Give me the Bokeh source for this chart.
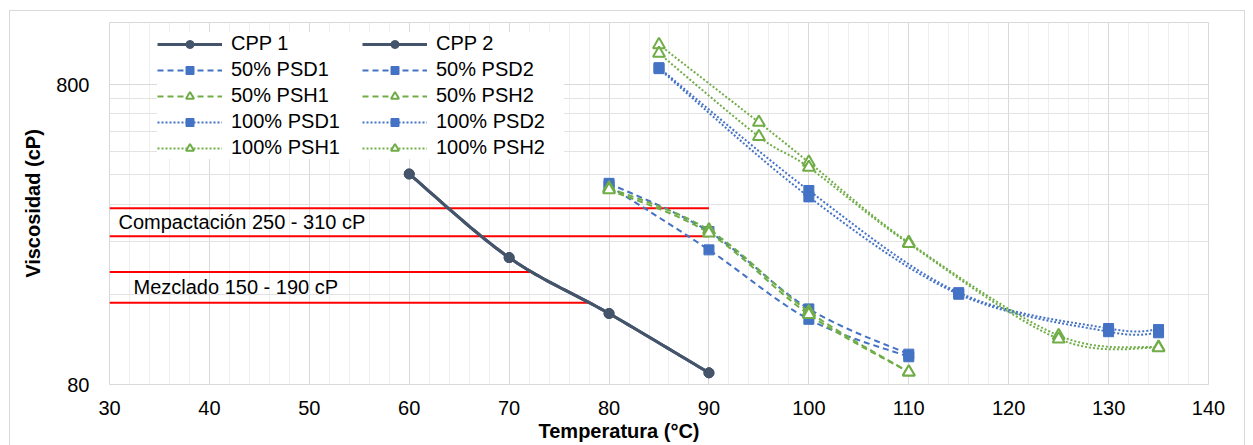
import numpy as np
from bokeh.plotting import figure
from bokeh.models import (FixedTicker, SingleIntervalTicker, PrintfTickFormatter, Range1d,
                          Legend, LegendItem, Title)
from bokeh.core.properties import value
from bokeh.embed import file_html
from bokeh.resources import INLINE

# ---------------- data ----------------
temp_cpp = [60, 70, 80, 90]
cpp1 = [403, 212, 138, 87.5]
cpp2 = [403, 212, 138, 87.5]

temp_50 = [80, 90, 100, 110]
psd50_1 = [375, 259, 143, 101]
psd50_2 = [368, 225, 132, 99]
psh50_1 = [362, 262, 140, 88]
psh50_2 = [357, 256, 137, 88]

temp_100psd = [85, 100, 115, 130, 135]
psd100_1 = [912, 355, 162, 123, 122]
psd100_2 = [905, 338, 160, 120, 119]

temp_100psh = [85, 95, 100, 110, 125, 135]
psh100_1 = [1088, 599, 441, 238, 116.5, 106.5]
psh100_2 = [1018, 537, 424, 236, 113.5, 106]

# reference bands (cP) and where the red lines end (°C)
band_values = [310, 250, 190, 150]
band_x_start = [30, 30, 30, 30]
band_x_end = [90, 90, 72.4, 77.9]
band_labels = ["Compactación 250 - 310 cP", "Mezclado 150 - 190 cP"]
band_pairs = [(250, 310), (150, 190)]
band_label_x = [30.9, 32.4]

y_ticks = [80, 800]
y_minor = [160, 240, 320, 400, 480, 560, 640, 720]
x_min, x_max = 30, 140
y_min, y_max = 80, 1290

FONT = "Liberation Sans"
DARK = "#44546A"
BLUE = "#4472C4"
GREEN = "#70AD47"


def smooth(xs, ys, n=24):
    """Excel-like smoothed line (Catmull-Rom / Bezier) in (x, log y) space."""
    P = np.column_stack([np.asarray(xs, float), np.log10(np.asarray(ys, float))])
    m = len(P)
    out = [P[0]]
    t = np.linspace(0, 1, n)[1:, None]
    for i in range(m - 1):
        p0 = P[i - 1] if i > 0 else P[i]
        p1, p2 = P[i], P[i + 1]
        p3 = P[i + 2] if i + 2 < m else P[i + 1]
        c1 = p1 + (p2 - p0) / 6.0
        c2 = p2 - (p3 - p1) / 6.0
        seg = ((1 - t) ** 3) * p1 + 3 * ((1 - t) ** 2) * t * c1 + 3 * (1 - t) * t ** 2 * c2 + t ** 3 * p2
        out.extend(seg)
    out = np.array(out)
    return out[:, 0], 10 ** out[:, 1]


p = figure(width=1245, height=445, y_axis_type="log",
           x_range=Range1d(x_min, x_max), y_range=Range1d(y_min, y_max),
           output_backend="svg", toolbar_location=None,
           min_border_left=109, min_border_right=37, min_border_top=22, min_border_bottom=61,
           background_fill_color="white", border_fill_color="white")
p.stylesheets = [
    ":host { overflow: hidden; }",
    ":host::after { content: ''; position: absolute; left: 9px; top: 10px; right: 0px; bottom: -4px;"
    " border: 1px solid #d9d9d9; pointer-events: none; }",
]

p.outline_line_color = "#d9d9d9"

# axes
p.xaxis.ticker = SingleIntervalTicker(interval=10, num_minor_ticks=5)
p.yaxis.ticker = FixedTicker(ticks=y_ticks, minor_ticks=y_minor)
p.yaxis.formatter = PrintfTickFormatter(format="%d")
for ax in (p.xaxis, p.yaxis):
    ax.major_tick_line_color = None
    ax.minor_tick_line_color = None
    ax.major_label_text_font = FONT
    ax.major_label_text_font_size = "20px"
    ax.major_label_text_color = "#000000"
p.yaxis.major_label_standoff = 14
p.xaxis.major_label_standoff = 10
p.xaxis.axis_line_color = "#d9d9d9"
p.yaxis.axis_line_color = None
p.yaxis.axis_label = "Viscosidad (cP)"
p.yaxis.axis_label_text_font = FONT
p.yaxis.axis_label_text_font_size = "20px"
p.yaxis.axis_label_text_font_style = "bold"
p.yaxis.axis_label_text_color = "#000000"
p.yaxis.axis_label_standoff = 9

# grids
p.xgrid.grid_line_color = "#d9d9d9"
p.xgrid.minor_grid_line_color = "#eeeeee"
p.ygrid.grid_line_color = "#d9d9d9"
p.ygrid.minor_grid_line_color = "#e3e3e3"

# red reference lines
for yv, xs0, xs1 in zip(band_values, band_x_start, band_x_end):
    p.line([xs0, xs1], [yv, yv], line_color="#FF0000", line_width=2)
for txt, (lo, hi), lx in zip(band_labels, band_pairs, band_label_x):
    p.text(x=[lx], y=[np.sqrt(lo * hi)], text=[txt], text_font=value(FONT),
           text_font_size="20px", text_baseline="middle", text_align="left", text_color="#000000")

items = {}


def series(name, xs, ys, color, dash, marker, msize, lw):
    sx, sy = smooth(xs, ys)
    lr = p.line(sx, sy, line_color=color, line_width=lw, line_dash=dash)
    if marker == "triangle":
        mr = p.scatter(xs, ys, marker="triangle", size=msize, line_color=color,
                       fill_color="white", line_width=2)
    else:
        mr = p.scatter(xs, ys, marker=marker, size=msize, line_color=color, fill_color=color)
    items[name] = LegendItem(label=name, renderers=[lr, mr])


series("CPP 1", temp_cpp, cpp1, DARK, "solid", "circle", 10, 3)
series("CPP 2", temp_cpp, cpp2, DARK, "solid", "circle", 10, 3)
series("50% PSD1", temp_50, psd50_1, BLUE, "6 4", "square", 10, 2)
series("50% PSD2", temp_50, psd50_2, BLUE, "6 4", "square", 10, 2)
series("50% PSH1", temp_50, psh50_1, GREEN, "6 4", "triangle", 12, 2)
series("50% PSH2", temp_50, psh50_2, GREEN, "6 4", "triangle", 12, 2)
series("100% PSD1", temp_100psd, psd100_1, BLUE, "2 2", "square", 10, 2)
series("100% PSD2", temp_100psd, psd100_2, BLUE, "2 2", "square", 10, 2)
series("100% PSH1", temp_100psh, psh100_1, GREEN, "2 2", "triangle", 12, 2)
series("100% PSH2", temp_100psh, psh100_2, GREEN, "2 2", "triangle", 12, 2)

order = ["CPP 1", "50% PSD1", "50% PSH1", "100% PSD1", "100% PSH1",
         "CPP 2", "50% PSD2", "50% PSH2", "100% PSD2", "100% PSH2"]
legend = Legend(items=[items[k] for k in order], ncols=2, location=(48, 225),
                label_text_font=FONT, label_text_font_size="20px", label_text_color="#000000",
                glyph_width=65, glyph_height=20, label_height=20, label_width=128,
                label_standoff=9, spacing=3, padding=3, margin=0,
                background_fill_color="white", background_fill_alpha=1.0,
                border_line_color=None)
p.add_layout(legend, "center")

p.add_layout(Title(text="Temperatura (°C)", align="left", offset=429,
                   text_font=FONT, text_font_size="20px", text_font_style="bold",
                   text_color="#000000", standoff=0), "below")

open("out.html", "w").write(file_html(p, INLINE))
